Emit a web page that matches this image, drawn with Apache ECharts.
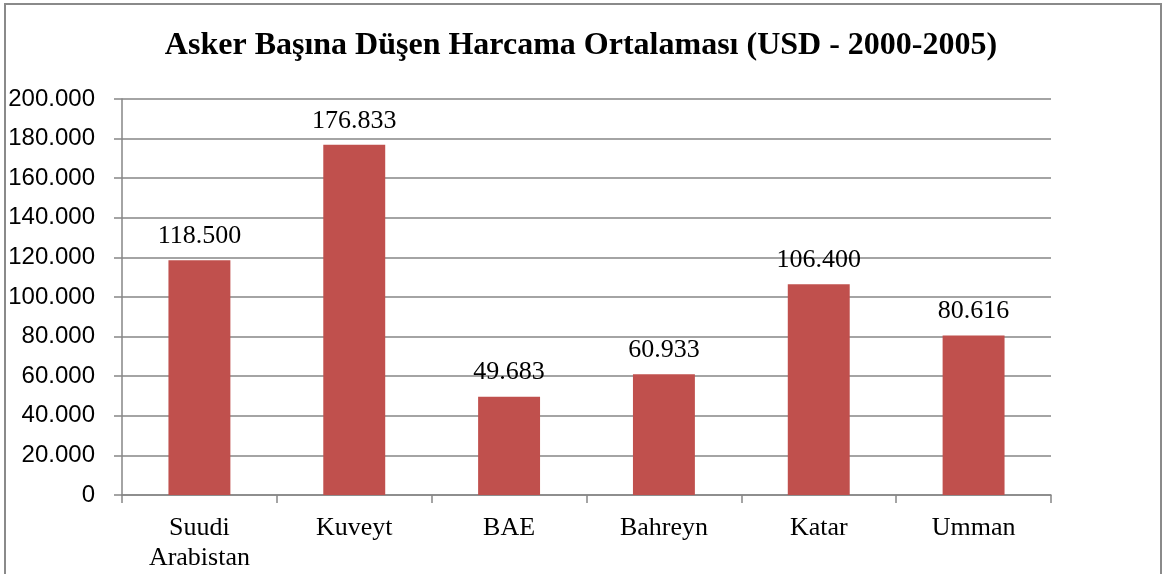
<!DOCTYPE html>
<html><head><meta charset="utf-8">
<script src="https://cdn.jsdelivr.net/npm/echarts@6/dist/echarts.min.js"></script>
<style>html,body{margin:0;padding:0;background:#fff}#c{width:1162px;height:574px}</style>
</head><body><div id="c"></div>
<script>
const titleText = 'Asker Başına Düşen Harcama Ortalaması (USD - 2000-2005)';
const categories = ['Suudi\nArabistan', 'Kuveyt', 'BAE', 'Bahreyn', 'Katar', 'Umman'];
const values = [118500, 176833, 49683, 60933, 106400, 80616];
const yTicks = [0, 20000, 40000, 60000, 80000, 100000, 120000, 140000, 160000, 180000, 200000];

function fmt(v) {
  return String(Math.round(v)).replace(/\B(?=(\d{3})+(?!\d))/g, '.');
}
const axisGray = '#868686';
const chart = echarts.init(document.getElementById('c'), null, {renderer: 'canvas'});
chart.setOption({
  animation: false,
  backgroundColor: '#fff',
  title: {
    text: titleText, left: 'center', top: 25,
    textStyle: {fontFamily: 'Liberation Serif', fontWeight: 'bold', fontSize: 32, color: '#000'}
  },
  graphic: [{
    type: 'rect', shape: {x: 5, y: 4, width: 1156, height: 600},
    style: {fill: 'none', stroke: '#8a8a8a', lineWidth: 2}, silent: true
  }],
  grid: {left: 122, right: 111, top: 99, bottom: 79, containLabel: false},
  xAxis: {
    type: 'category', data: categories,
    axisLine: {lineStyle: {color: axisGray, width: 1.5}},
    axisTick: {show: true, length: 8, lineStyle: {color: axisGray, width: 1.5}},
    axisLabel: {fontFamily: 'Liberation Serif', fontSize: 26, color: '#000', lineHeight: 30, margin: 18}
  },
  yAxis: {
    type: 'value', min: yTicks[0], max: yTicks[yTicks.length - 1], interval: yTicks[1] - yTicks[0],
    axisLine: {show: true, lineStyle: {color: axisGray, width: 1.5}},
    axisTick: {show: true, length: 8, lineStyle: {color: axisGray, width: 1.5}},
    splitLine: {lineStyle: {color: axisGray, width: 1.5}},
    axisLabel: {fontFamily: 'Liberation Sans', fontSize: 24, color: '#000', margin: 27, formatter: v => fmt(v)}
  },
  series: [{
    type: 'bar', data: values, barWidth: '40%',
    itemStyle: {color: '#C0504D'},
    label: {show: true, position: 'top', distance: 11, fontFamily: 'Liberation Serif', fontSize: 26, color: '#000',
      formatter: p => fmt(p.value)}
  }]
});
</script></body></html>
